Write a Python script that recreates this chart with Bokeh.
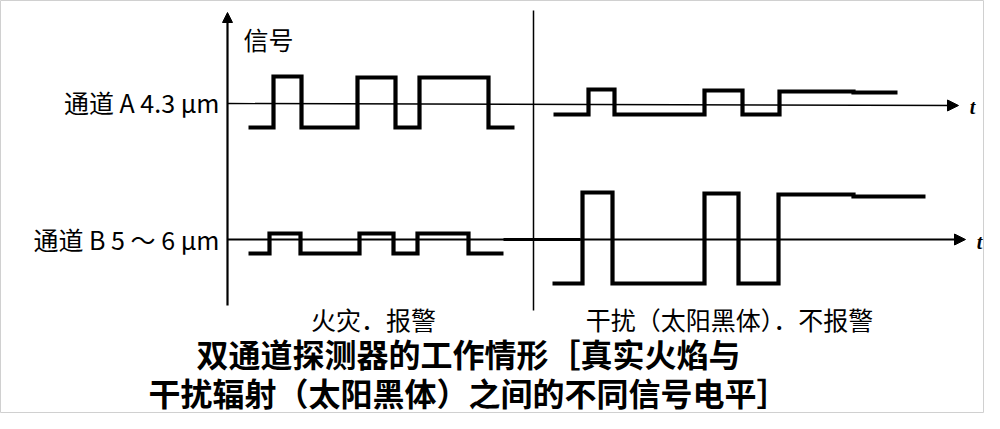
import numpy as np
from bokeh.plotting import figure
from bokeh.models import Range1d, Arrow, NormalHead
from bokeh.core.properties import value
from bokeh.embed import file_html
from bokeh.resources import INLINE

# --- data (time in px-like units, level in px-like units, y downwards) ---
# channel A, real flame (left half)
a_fire_t = [248, 273, 301, 357, 395, 419, 488, 514]
a_fire_lvl = [127, 76, 127, 77, 127, 77, 127]
# channel B, real flame
b_fire_t = [248, 269, 300, 359, 393, 417, 468, 503]
b_fire_lvl = [253, 233, 253, 233, 253, 233, 253]
# channel A, interference (sun / black body)
a_sun_t = [553, 588, 614, 704, 742, 779, 853, 897]
a_sun_lvl = [114, 89, 114, 90, 114, 91, 92]
# channel B, interference
b_sun_t = [552, 582, 612, 704, 738, 778, 853, 925]
b_sun_lvl = [283, 192, 283, 193, 283, 194, 196]

base_a = 103
base_b = 239
channel_labels = ["通道 A 4.3 μm", "通道 B 5 ～ 6 μm"]
case_labels = ["火灾．报警", "干扰（太阳黑体）．不报警"]
caption = ["双通道探测器的工作情形［真实火焰与", "干扰辐射（太阳黑体）之间的不同信号电平］"]

FONT = value("Noto Sans CJK SC")


def steps(t, lvl):
    xs, ys = [], []
    for i in range(len(lvl)):
        xs += [t[i], t[i + 1]]
        ys += [lvl[i], lvl[i]]
    return xs, ys


p = figure(width=984, height=413, output_backend="svg", toolbar_location=None,
           x_range=Range1d(0, 984), y_range=Range1d(413, 0),
           min_border=0, outline_line_color="#d0d0d0")
p.xaxis.visible = False
p.yaxis.visible = False
p.grid.visible = False

# axes of the diagram
p.add_layout(Arrow(end=NormalHead(size=10, fill_color="black", line_color="black"),
                   x_start=227, y_start=305, x_end=227, y_end=12,
                   line_width=2.2, line_color="black"))
p.segment(x0=[533], y0=[10], x1=[533], y1=[310], line_width=1.5, color="black")
p.add_layout(Arrow(end=NormalHead(size=11, fill_color="black", line_color="black"),
                   x_start=227, y_start=base_a, x_end=958, y_end=base_a + 2,
                   line_width=1.4, line_color="black"))
p.add_layout(Arrow(end=NormalHead(size=11, fill_color="black", line_color="black"),
                   x_start=227, y_start=base_b, x_end=965, y_end=base_b,
                   line_width=1.8, line_color="black"))
p.segment(x0=[503, 533], y0=[base_b, base_b], x1=[533, 580], y1=[base_b, base_b],
          line_width=3, color="black")

for t, lvl in [(a_fire_t, a_fire_lvl), (b_fire_t, b_fire_lvl),
               (a_sun_t, a_sun_lvl), (b_sun_t, b_sun_lvl)]:
    xs, ys = steps(t, lvl)
    p.line(xs, ys, line_width=4.2, color="black", line_join="miter")

# texts
p.text(x=[243], y=[38], text=["信号"], text_font=FONT, text_font_size="25px",
       text_baseline="middle", text_align="left", text_color="black")
p.text(x=[219, 219], y=[base_a - 2, base_b - 1], text=channel_labels, text_font=FONT,
       text_font_size="25px", text_baseline="middle", text_align="right", text_color="black")
p.text(x=[972, 979], y=[base_a + 3, base_b + 2], text=["t", "t"], text_font=value("Liberation Serif"),
       text_font_size="20px", text_font_style="bold italic", text_baseline="middle",
       text_align="center", text_color="black")
p.text(x=[373, 729], y=[318, 318], text=case_labels, text_font=FONT,
       text_font_size="25px", text_baseline="middle", text_align="center", text_color="black")
p.text(x=[196, 148], y=[352, 391], text=caption, text_font=FONT,
       text_font_size="32px", text_font_style="bold", text_baseline="middle",
       text_align="left", text_color="black")

open("out.html", "w").write(file_html(p, INLINE))
